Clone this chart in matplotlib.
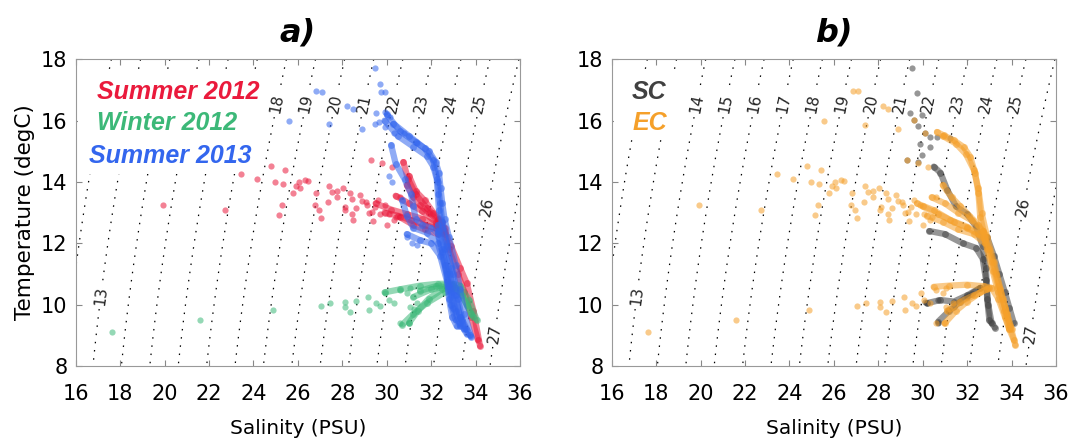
import numpy as np
import matplotlib.pyplot as plt
from matplotlib.patches import Rectangle

plt.rcParams['lines.dotted_pattern'] = [1.2, 5.4]

# ---------------- data ----------------
levels = [12, 13, 14, 15, 16, 17, 18, 19, 20, 21, 22, 23, 24, 25, 26, 27]
lab_levels = [13, 14, 15, 16, 17, 18, 19, 20, 21, 22, 23, 24, 25, 26, 27]
lab_T = [10.3, 16.55, 16.55, 16.55, 16.55, 16.55, 16.55, 16.55, 16.55,
         16.55, 16.55, 16.55, 16.55, 13.2, 9.06]

# Summer 2012 (red) single points
red_S = [19.95, 22.74, 23.45, 24.17, 24.81, 24.99, 25.41, 25.32, 25.29, 25.14,
         25.80, 25.92, 26.10, 26.04, 26.32, 26.46, 26.82, 26.79, 26.97, 27.06,
         27.38, 27.55, 27.76, 27.78, 27.35, 28.03, 28.14, 28.10, 28.36, 28.42,
         28.45, 28.48, 28.63, 28.78, 28.90, 29.08, 29.20, 29.38, 29.29, 29.78,
         30.23, 29.48, 30.08, 30.31, 29.71, 29.11, 29.33, 30.61, 29.60, 29.90,
         30.40, 30.00]
red_T = [13.24, 13.08, 14.25, 14.11, 14.51, 14.00, 14.38, 13.93, 13.24, 12.92,
         13.63, 13.86, 13.79, 14.00, 14.08, 14.04, 13.65, 13.24, 13.10, 12.83,
         13.86, 13.68, 13.71, 13.51, 13.35, 13.80, 13.19, 13.08, 13.63, 13.43,
         12.97, 12.76, 13.14, 13.57, 13.38, 13.35, 12.99, 12.73, 14.73, 14.62,
         14.49, 13.19, 12.97, 12.76, 12.97, 13.24, 13.03, 13.51, 13.40, 13.25,
         12.85, 12.60]
# Summer 2012 dense casts
red_prof_S = [[30.75, 30.95, 31.3, 31.8, 32.3, 32.6, 32.9, 33.3, 33.6, 33.9, 34.2],
              [29.5, 30.2, 30.9, 31.6, 32.2, 32.6, 32.8, 33.2, 33.5, 33.8, 34.1],
              [30.4, 31.0, 31.6, 32.2, 32.5],
              [30.6, 31.2, 31.7, 32.3],
              [31.0, 31.3, 31.7, 32.1, 32.5],
              [29.9, 30.5, 31.1, 31.7, 32.2, 32.5],
              [30.9, 31.2, 31.5, 31.9, 32.3, 32.6]]
red_prof_T = [[14.65, 14.1, 13.6, 13.15, 12.8, 12.4, 11.9, 11.2, 10.7, 9.8, 8.65],
              [13.3, 13.1, 12.95, 12.8, 12.6, 12.3, 11.8, 11.0, 10.4, 9.6, 8.85],
              [13.55, 13.3, 13.05, 12.7, 12.5],
              [12.85, 12.6, 12.45, 12.3],
              [14.2, 13.7, 13.4, 13.0, 12.7],
              [13.0, 12.9, 12.75, 12.6, 12.5, 12.35],
              [13.9, 13.5, 13.25, 13.0, 12.75, 12.5]]

# Winter 2012 (green)
green_S = [17.62, 21.60, 24.90, 27.05, 27.45, 28.10, 28.10, 28.36, 28.63, 29.15,
           29.20, 29.53, 29.71, 29.93, 30.08, 30.31, 30.61, 30.91, 31.06, 31.21,
           31.36, 30.61, 30.98, 31.06]
green_T = [9.12, 9.50, 9.82, 9.95, 10.06, 10.10, 9.91, 9.77, 10.13, 10.26,
           9.82, 10.04, 9.95, 10.37, 10.15, 10.04, 10.48, 10.37, 10.53, 9.85,
           10.04, 9.39, 9.39, 9.93]
green_prof_S = [[29.9, 30.6, 31.5, 32.3, 33.0, 33.3, 33.7, 34.05],
                [31.0, 31.4, 31.9, 32.5, 33.0],
                [30.7, 31.2, 31.8, 32.6, 33.1],
                [31.2, 32.0, 32.8, 33.3, 33.6, 33.9],
                [31.5, 32.2, 32.9, 33.4, 33.8]]
green_prof_T = [[10.4, 10.5, 10.62, 10.68, 10.68, 10.62, 10.15, 9.5],
                [9.4, 9.8, 10.2, 10.5, 10.62],
                [9.35, 9.7, 10.05, 10.4, 10.55],
                [10.25, 10.5, 10.6, 10.4, 10.0, 9.6],
                [10.45, 10.6, 10.65, 10.3, 9.7]]

# Summer 2013 (blue)
blue_S = [29.48, 29.71, 29.74, 29.90, 26.82, 27.08, 25.58, 27.38, 28.23, 28.50,
          28.88, 29.53, 29.63, 29.93, 29.93, 30.16, 30.31, 30.01, 29.45, 30.76,
          31.36, 30.91, 31.14, 31.36, 30.10, 30.25]
blue_T = [17.70, 17.21, 16.94, 16.94, 16.97, 16.94, 15.99, 15.88, 16.47, 16.39,
          15.74, 16.25, 15.96, 16.28, 15.79, 16.12, 15.58, 16.18, 15.90, 15.58,
          15.26, 12.21, 12.00, 11.94, 14.20, 14.00]
blue_prof_S = [[30.0, 30.6, 31.3, 31.9, 32.2, 32.35, 32.42, 32.5, 32.6, 32.8, 33.1, 33.3, 33.5, 33.8],
               [30.3, 31.0, 31.7, 32.1, 32.3, 32.4, 32.5, 32.7, 32.9, 33.1, 33.3, 33.55],
               [30.2, 30.4, 30.8, 31.1, 31.2, 31.3, 31.6, 32.0, 32.3, 32.5, 32.7, 32.8, 32.95, 33.15],
               [30.7, 30.9, 31.2, 31.8, 32.3, 32.6, 32.8, 33.0, 33.3],
               [30.9, 31.5, 32.0, 32.4, 32.7, 32.9, 33.1],
               [32.3, 32.6, 32.85, 33.05, 33.3, 33.5],
               [29.9, 30.5, 31.2, 31.8, 32.1, 32.25, 32.3, 32.35, 32.5, 32.7, 33.0, 33.2, 33.4, 33.75],
               [32.3, 32.5, 32.7, 32.9, 33.1, 33.3, 33.6]]
blue_prof_T = [[16.2, 15.65, 15.3, 15.0, 14.65, 14.3, 13.8, 13.3, 12.8, 12.2, 11.3, 10.5, 9.7, 8.95],
               [15.9, 15.5, 15.1, 14.7, 14.0, 13.3, 12.7, 12.0, 11.2, 10.3, 9.6, 9.2],
               [15.2, 14.6, 14.1, 13.6, 13.2, 12.8, 12.6, 12.5, 12.3, 11.7, 11.0, 10.2, 9.6, 9.3],
               [13.4, 12.9, 12.5, 12.35, 12.0, 11.3, 10.6, 9.9, 9.3],
               [12.3, 12.1, 12.0, 11.6, 10.8, 10.0, 9.5],
               [12.6, 11.8, 11.0, 10.3, 9.6, 9.2],
               [16.0, 15.5, 15.15, 14.85, 14.5, 14.1, 13.6, 13.1, 12.5, 11.9, 11.0, 10.2, 9.5, 9.0],
               [12.4, 11.8, 11.1, 10.4, 9.8, 9.4, 9.05]]

# panel b: SC (dark grey)
sc_S = [29.51, 29.74, 29.44, 29.59, 29.81, 29.96, 30.11, 30.34, 29.89, 29.29,
        29.81, 29.96, 30.34, 30.64, 31.24, 30.19, 30.71, 31.39, 31.99, 30.11,
        30.71, 31.16]
sc_T = [17.70, 16.90, 16.25, 16.01, 15.82, 16.18, 15.58, 15.47, 15.25, 14.73,
        14.65, 14.87, 15.14, 15.47, 15.42, 10.04, 9.39, 9.93, 10.26, 10.09,
        10.15, 9.82]
sc_prof_S = [[30.5, 30.8, 31.1, 31.5, 32.0, 32.4, 32.7, 32.85, 32.9, 33.0, 33.25],
             [30.3, 31.0, 31.8, 32.4, 32.7, 32.85, 32.95, 33.1],
             [32.9, 33.2, 33.45, 33.7, 33.9, 34.1],
             [30.7, 31.2, 31.7, 32.2, 32.6],
             [30.2, 30.8, 31.4, 32.0, 32.6]]
sc_prof_T = [[14.5, 14.3, 13.75, 13.2, 12.95, 12.55, 11.9, 11.2, 10.2, 9.5, 9.25],
             [12.4, 12.3, 12.0, 11.85, 11.5, 10.8, 10.0, 9.4],
             [12.2, 11.6, 11.0, 10.4, 9.9, 9.4],
             [9.45, 9.8, 10.1, 10.35, 10.55],
             [10.05, 10.15, 10.1, 10.3, 10.55]]

# panel b: EC (orange)
ec_extra_S = [26.88, 27.10, 25.56, 27.41, 28.23, 28.46, 28.91, 29.59, 30.11]
ec_extra_T = [16.97, 16.95, 15.99, 15.85, 16.47, 16.39, 15.74, 16.01, 15.60]
ec_prof_S = [[30.64, 30.94, 31.39, 31.84, 32.14, 32.36, 32.51, 32.59, 32.8, 33.1, 33.4, 33.7, 33.95, 34.17],
             [30.9, 31.5, 31.95, 32.3, 32.5, 32.65, 32.9, 33.2, 33.5, 33.8, 34.0],
             [29.74, 30.49, 31.24, 31.99, 32.74, 33.0, 33.3, 33.6, 33.9],
             [30.2, 30.9, 31.6, 32.3, 32.8],
             [30.4, 31.0, 31.6, 32.2, 32.7],
             [30.49, 31.2, 32.0, 32.74, 33.1, 33.4, 33.7, 33.9],
             [31.0, 31.5, 32.0, 32.6, 33.0],
             [31.1, 31.7, 32.3, 32.9],
             [30.0, 30.7, 31.4, 32.0, 32.5, 32.8],
             [30.9, 31.3, 31.7, 32.1, 32.5, 32.8],
             [32.7, 32.9, 33.15, 33.4, 33.65, 33.9, 34.1]]
ec_prof_T = [[15.63, 15.52, 15.36, 15.14, 14.82, 14.28, 13.63, 12.86, 12.2, 11.4, 10.6, 9.9, 9.3, 8.68],
             [15.5, 15.25, 14.9, 14.4, 13.8, 13.0, 12.2, 11.4, 10.5, 9.7, 9.2],
             [13.30, 13.08, 12.76, 12.54, 12.21, 11.8, 11.0, 10.2, 9.3],
             [12.9, 12.7, 12.45, 12.3, 12.0],
             [13.5, 13.3, 13.0, 12.75, 12.4],
             [10.58, 10.62, 10.65, 10.6, 10.55, 10.2, 9.6, 9.2],
             [9.4, 9.8, 10.1, 10.4, 10.55],
             [9.8, 10.1, 10.3, 10.5],
             [13.2, 12.95, 12.7, 12.5, 12.3, 12.1],
             [13.9, 13.5, 13.2, 12.9, 12.6, 12.3],
             [12.4, 11.8, 11.1, 10.4, 9.8, 9.2, 8.85]]

c_red = '#ea1a3c'
c_green = '#3cb878'
c_blue = '#3366ee'
c_sc = '#404040'
c_ec = '#f5a02a'


def sigma_t(S, T):
    # UNESCO 1980 equation of state at the surface, minus 1000
    rw = (999.842594 + 6.793952e-2*T - 9.095290e-3*T**2 + 1.001685e-4*T**3
          - 1.120083e-6*T**4 + 6.536332e-9*T**5)
    A = 8.24493e-1 - 4.0899e-3*T + 7.6438e-5*T**2 - 8.2467e-7*T**3 + 5.3875e-9*T**4
    B = -5.72466e-3 + 1.0227e-4*T - 1.6546e-6*T**2
    return rw + A*S + B*S**1.5 + 4.8314e-4*S**2 - 1000


Sg, Tg = np.meshgrid(np.linspace(16, 36, 400), np.linspace(8, 18, 300))
sig = sigma_t(Sg, Tg)


def isopycnals(ax):
    unl = [lv for lv in levels if lv not in lab_levels]
    ax.contour(Sg, Tg, sig, levels=unl, colors='k', linewidths=0.9,
               linestyles='dotted', zorder=1)
    cs = ax.contour(Sg, Tg, sig, levels=lab_levels, colors='k',
                    linewidths=0.9, linestyles='dotted', zorder=1)
    s_fine = np.linspace(16, 40, 2000)
    pos = []
    for lv, t in zip(lab_levels, lab_T):
        pos.append((np.interp(lv, sigma_t(s_fine, t), s_fine), t))
    with plt.rc_context({'font.family': 'Liberation Sans Narrow'}):
        txt = ax.clabel(cs, inline=True, fontsize=11, fmt='%d',
                        manual=pos, inline_spacing=4)
    for t in txt:
        t.set_zorder(1)
        t.set_color('#222222')


def profiles(ax, ps, pt, col):
    for s, t in zip(ps, pt):
        ax.plot(s, t, '-', color=col, lw=4.5, alpha=0.55, solid_capstyle='round',
                solid_joinstyle='round', zorder=4)
        ax.plot(s, t, 'o', color=col, ms=5, alpha=0.5, mec='none', zorder=4)


def style(ax, title):
    ax.set_xlim(16, 36)
    ax.set_ylim(8, 18)
    ax.set_xticks(range(16, 37, 2))
    ax.set_yticks(range(8, 19, 2))
    ax.tick_params(direction='in', top=True, right=True, length=4,
                   color='#888888', labelsize=15, pad=6)
    ax.tick_params(axis='x', pad=13)
    for sp in ax.spines.values():
        sp.set_color('#999999')
        sp.set_linewidth(0.8)
    ax.set_xlabel('Salinity (PSU)', fontsize=14.5, labelpad=11)
    ax.set_title(title, fontsize=23, fontweight='bold', fontstyle='italic',
                 family='Liberation Sans Narrow', pad=13)


fig = plt.figure(figsize=(10.76, 4.42), dpi=100)
ax1 = fig.add_axes([0.0704, 0.172, 0.4129, 0.6939])
ax2 = fig.add_axes([0.5685, 0.172, 0.4129, 0.6939])

# panel a
isopycnals(ax1)
ax1.add_patch(Rectangle((0.005, 0.625), 0.405, 0.33, transform=ax1.transAxes,
                        fc='white', ec='none', zorder=2))
ax1.scatter(red_S, red_T, s=20, color=c_red, alpha=0.55, lw=0, zorder=3)
profiles(ax1, red_prof_S, red_prof_T, c_red)
ax1.scatter(green_S, green_T, s=20, color=c_green, alpha=0.55, lw=0, zorder=4)
profiles(ax1, green_prof_S, green_prof_T, c_green)
ax1.scatter(blue_S, blue_T, s=20, color=c_blue, alpha=0.55, lw=0, zorder=5)
profiles(ax1, blue_prof_S, blue_prof_T, c_blue)
for txt, col, x, y in [('Summer 2012', c_red, 0.048, 0.893),
                       ('Winter 2012', c_green, 0.048, 0.792),
                       ('Summer 2013', c_blue, 0.030, 0.685)]:
    ax1.text(x, y, txt, color=col, transform=ax1.transAxes, fontsize=18,
             fontweight='bold', fontstyle='italic', family='Liberation Sans',
             va='center', ha='left', zorder=6)
style(ax1, 'a)')
ax1.set_ylabel('Temperature (degC)', fontsize=15.5, labelpad=4)

# panel b
isopycnals(ax2)
ax2.add_patch(Rectangle((0.005, 0.745), 0.15, 0.21, transform=ax2.transAxes,
                        fc='white', ec='none', zorder=2))
ax2.scatter(sc_S, sc_T, s=20, color=c_sc, alpha=0.55, lw=0, zorder=3)
profiles(ax2, sc_prof_S, sc_prof_T, c_sc)
ax2.scatter(red_S + green_S + ec_extra_S, red_T + green_T + ec_extra_T, s=20,
            color=c_ec, alpha=0.55, lw=0, zorder=5)
profiles(ax2, ec_prof_S, ec_prof_T, c_ec)
for txt, col, y in [('SC', c_sc, 0.893), ('EC', c_ec, 0.792)]:
    ax2.text(0.046, y, txt, color=col, transform=ax2.transAxes, fontsize=18,
             fontweight='bold', fontstyle='italic', family='Liberation Sans',
             va='center', ha='left', zorder=6)
style(ax2, 'b)')

fig.savefig('out.png', dpi=100)
